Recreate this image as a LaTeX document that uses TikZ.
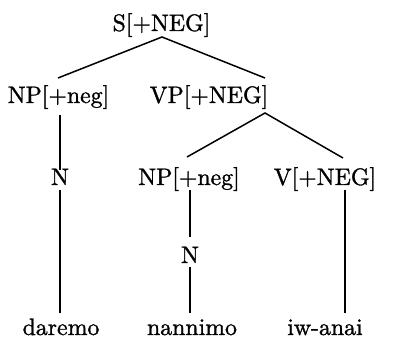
\documentclass[tikz,border=0pt]{standalone}
\usepackage{fontspec}
\newfontfamily\tenfont{lmroman10-regular}[Extension=.otf,FakeBold=1.2]
\newcommand\sx[1]{#1}
\begin{document}
\begin{tikzpicture}[x=1pt,y=-1pt,
  lbl/.style={anchor=base,inner sep=0pt,font=\tenfont\fontsize{23.8}{28}\selectfont},
  edge/.style={line width=1.5pt}]
\useasboundingbox (0,0) rectangle (397,339);
% nodes
\node[lbl] (S) at (161.5,31) {\sx{S[+NEG]}};
\node[lbl] (NPa) at (58.5,103) {\sx{NP[+neg]}};
\node[lbl] (VP) at (209,103) {\sx{VP[+NEG]}};
\node[lbl] (Na) at (60,185) {\sx{N}};
\node[lbl] (NPb) at (189,185) {\sx{NP[+neg]}};
\node[lbl] (V) at (325,185) {\sx{V[+NEG]}};
\node[lbl] (Nb) at (190,263) {\sx{N}};
\node[lbl] (w1) at (61,335) {\sx{daremo}};
\node[lbl] (w2) at (192,335) {\sx{nannimo}};
\node[lbl] (w3) at (325,335) {\sx{iw-anai}};
% attachment points
\coordinate (Sb) at (162,37);
\coordinate (NPat) at (58,78);
\coordinate (VPat) at (265,78);
\coordinate (NPab) at (60,115);
\coordinate (Nat) at (60,170);
\coordinate (Nab) at (60,190);
\coordinate (w1t) at (60,313);
\coordinate (VPb) at (265,113);
\coordinate (NPbt) at (187,157);
\coordinate (Vt) at (343,158);
\coordinate (NPbb) at (190,190);
\coordinate (Nbt) at (190,237);
\coordinate (Nbb) at (190,267);
\coordinate (w2t) at (190,313);
\coordinate (Vb) at (345,190);
\coordinate (w3t) at (345,313);
% connectors
\draw[edge] (NPat) -- (Sb) -- (VPat);
\draw[edge] (NPab) -- (Nat);
\draw[edge] (Nab) -- (w1t);
\draw[edge] (NPbt) -- (VPb) -- (Vt);
\draw[edge] (NPbb) -- (Nbt);
\draw[edge] (Nbb) -- (w2t);
\draw[edge] (Vb) -- (w3t);
\end{tikzpicture}
\end{document}
